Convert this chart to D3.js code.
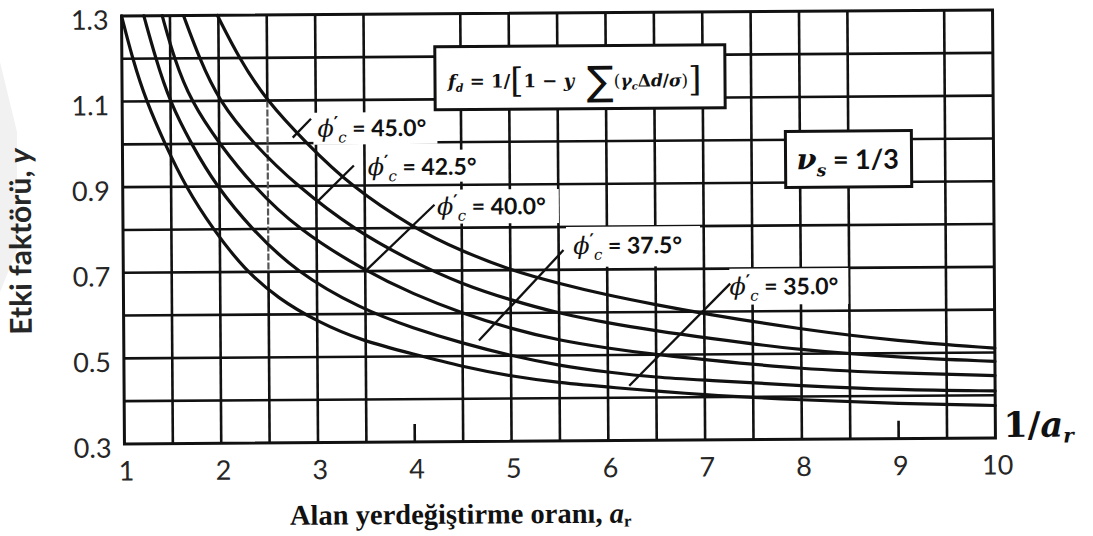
<!DOCTYPE html>
<html>
<head>
<meta charset="utf-8">
<script src="https://cdn.jsdelivr.net/npm/d3@7"></script>
<style>
  html, body { margin: 0; padding: 0; background: #fff; }
  svg { display: block; }
</style>
</head>
<body>
<svg id="chart" width="1093" height="536"></svg>
<script>
// ---- data -------------------------------------------------------------
const xTickValues = [1, 2, 3, 4, 5, 6, 7, 8, 9, 10];
const yTickValues = [1.3, 1.1, 0.9, 0.7, 0.5, 0.3];
const yGridValues = [0.4, 0.5, 0.6, 0.7, 0.8, 0.9, 1.0, 1.1, 1.2];
const xGridValues = [1.5, 2, 3, 3.5, 4.5, 5, 5.5, 6, 6.5, 7, 7.5, 8, 8.5, 9.5];
const xFaintValues = [2.5];
const xStubValues = [4, 9];

const frictionAngles = ["45.0", "42.5", "40.0", "37.5", "35.0"];

// influence factor y against area replacement ratio a_r, one list per angle
const phi45 = [[1.99, 1.3], [2.21, 1.2], [2.49, 1.1], [2.9, 1.0], [3.35, 0.9], [4.0, 0.80], [4.5, 0.745],
  [5.0, 0.70], [5.5, 0.668], [6.0, 0.64], [6.5, 0.617], [7.0, 0.595], [8.0, 0.557], [9.0, 0.528], [10, 0.51]];
const phi425 = [[1.64, 1.3], [1.80, 1.2], [2.0, 1.1], [2.35, 1.0], [2.8, 0.9], [3.4, 0.795], [4.0, 0.72],
  [4.5, 0.668], [5.0, 0.63], [5.5, 0.598], [6.0, 0.575], [6.5, 0.556], [7.0, 0.539], [8.0, 0.508], [9.0, 0.49], [10, 0.479]];
const phi40 = [[1.42, 1.3], [1.54, 1.2], [1.71, 1.1], [2.0, 1.0], [2.35, 0.9], [2.8, 0.8], [3.5, 0.70], [4.0, 0.645],
  [4.5, 0.60], [5.0, 0.563], [5.5, 0.535], [6.0, 0.516], [6.5, 0.50], [7.0, 0.488], [8.0, 0.464], [9.0, 0.453], [10, 0.446]];
const phi375 = [[1.23, 1.3], [1.35, 1.2], [1.49, 1.1], [1.71, 1.0], [1.97, 0.9], [2.33, 0.8], [2.78, 0.7], [3.45, 0.612],
  [4.0, 0.565], [4.5, 0.53], [5.0, 0.50], [5.5, 0.476], [6.0, 0.46], [6.5, 0.447], [7.0, 0.44], [8.0, 0.425], [9.0, 0.414], [10, 0.41]];
const phi35 = [[1.0, 1.3], [1.11, 1.2], [1.25, 1.1], [1.44, 1.0], [1.65, 0.9], [1.93, 0.8], [2.25, 0.706], [2.6, 0.637],
  [3.0, 0.583], [3.45, 0.538], [4.0, 0.505], [4.5, 0.475], [5.0, 0.452], [5.5, 0.436], [6.0, 0.425], [7.0, 0.405], [8.0, 0.392], [9.0, 0.382], [10, 0.376]];

// leader lines: point on the curve -> point under the label (data units)
const leader45 = [[2.76, 1.013], [2.95, 1.057]];
const leader425 = [[3.01, 0.863], [3.39, 0.947]];
const leader40 = [[3.52, 0.704], [4.22, 0.854]];
const leader375 = [[4.67, 0.536], [5.55, 0.746]];
const leader35 = [[6.22, 0.428], [7.27, 0.665]];

// ---- layout -----------------------------------------------------------
const svg = d3.select("#chart");
const root = svg.append("g").attr("transform", "rotate(-0.39,558,227)");

const x = d3.scaleLinear().domain([1, 10]).range([123, 994]);
const y = d3.scaleLinear().domain([0.3, 1.3]).range([441, 13]);

const ink = "#111";
const textInk = "#262626";

// faint mark on the left margin
svg.insert("polygon", ":first-child")
  .attr("points", "0,62 17,132 17,250 0,292")
  .attr("fill", "#f1f1f1");

// grid
const grid = root.append("g").attr("stroke", ink).attr("stroke-width", 2.6).attr("fill", "none");
grid.selectAll("line.h").data(yGridValues).join("line")
  .attr("class", "h")
  .attr("x1", x(1)).attr("x2", x(10))
  .attr("y1", d => y(d)).attr("y2", d => y(d));
grid.selectAll("line.v").data(xGridValues).join("line")
  .attr("class", "v")
  .attr("x1", d => x(d)).attr("x2", d => x(d))
  .attr("y1", y(1.3)).attr("y2", y(0.3));
grid.selectAll("line.s").data(xStubValues).join("line")
  .attr("class", "s")
  .attr("x1", d => x(d)).attr("x2", d => x(d))
  .attr("y1", y(0.3) - 18).attr("y2", y(0.3));
// the 2.5 rule is solid at both ends and only lightly printed in between
xFaintValues.forEach(v => {
  grid.append("line").attr("x1", x(v)).attr("x2", x(v)).attr("y1", y(1.3)).attr("y2", y(1.1));
  grid.append("line").attr("x1", x(v)).attr("x2", x(v)).attr("y1", y(1.1)).attr("y2", y(0.7))
    .attr("stroke", "#555").attr("stroke-width", 2.2).attr("stroke-dasharray", "7 2");
  grid.append("line").attr("x1", x(v)).attr("x2", x(v)).attr("y1", y(0.7)).attr("y2", y(0.3));
});

// white panels behind the curve labels
const panels = [
  { x: 314, y: 111, w: 124, h: 32 },   // 45.0
  { x: 368, y: 149, w: 118, h: 32 },   // 42.5
  { x: 437, y: 189, w: 122, h: 34 },   // 40.0
  { x: 566, y: 227, w: 134, h: 40 },   // 37.5
  { x: 729, y: 270, w: 119, h: 36 }    // 35.0
];
root.append("g").selectAll("rect").data(panels).join("rect")
  .attr("x", d => d.x).attr("y", d => d.y).attr("width", d => d.w).attr("height", d => d.h)
  .attr("fill", "#fff");

// frame
root.append("rect")
  .attr("x", x(1)).attr("y", y(1.3))
  .attr("width", x(10) - x(1)).attr("height", y(0.3) - y(1.3))
  .attr("fill", "none").attr("stroke", ink).attr("stroke-width", 3);

// curves
const line = d3.line().x(d => x(d[0])).y(d => y(d[1])).curve(d3.curveBasis);
const curves = [phi45, phi425, phi40, phi375, phi35];
root.append("g").selectAll("path").data(curves).join("path")
  .attr("d", line)
  .attr("fill", "none").attr("stroke", ink).attr("stroke-width", 3.2)
  .attr("stroke-linejoin", "round").attr("stroke-linecap", "round");

// leaders
const leaderLine = d3.line().x(d => x(d[0])).y(d => y(d[1]));
root.append("g").selectAll("path").data([leader45, leader425, leader40, leader375, leader35]).join("path")
  .attr("d", leaderLine)
  .attr("fill", "none").attr("stroke", ink).attr("stroke-width", 2.3);

// curve labels
const labelPos = [
  { x: 318, y: 135 }, { x: 368, y: 174 }, { x: 437, y: 214 }, { x: 573, y: 254 }, { x: 729, y: 296 }
];
const labels = root.append("g");
frictionAngles.forEach((a, i) => {
  const t = labels.append("text")
    .attr("x", labelPos[i].x).attr("y", labelPos[i].y)
    .attr("fill", ink);
  t.append("tspan").text("ϕ")
    .attr("font-family", "DejaVu Serif").attr("font-style", "italic").attr("font-size", 24);
  t.append("tspan").text("′")
    .attr("font-family", "DejaVu Serif").attr("font-weight", "bold").attr("font-size", 17).attr("dy", -8);
  t.append("tspan").text("c")
    .attr("font-family", "DejaVu Serif").attr("font-style", "italic").attr("font-size", 15)
    .attr("dy", 14);
  t.append("tspan").text(" = " + a + "°")
    .attr("font-family", "Lato").attr("font-weight", "bold").attr("font-size", 23).attr("dy", -6);
});

// formula box
root.append("rect").attr("x", 436).attr("y", 46).attr("width", 290).attr("height", 63)
  .attr("fill", "#fff").attr("stroke", ink).attr("stroke-width", 3);
const f = root.append("text").attr("x", 449).attr("y", 87)
  .attr("font-family", "DejaVu Serif").attr("font-size", 18).attr("font-weight", "bold").attr("fill", ink);
f.append("tspan").text("f").attr("font-style", "italic");
f.append("tspan").text("d").attr("font-style", "italic").attr("font-size", 11).attr("dy", 4);
f.append("tspan").text(" = 1/").attr("dy", -4);
f.append("tspan").text("[").attr("font-size", 34).attr("font-weight", "normal").attr("dy", 5);
f.append("tspan").text("1 − ").attr("dy", -5);
f.append("tspan").text("y").attr("font-style", "italic");
f.append("tspan").text(" ∑").attr("font-family", "DejaVu Sans").attr("font-size", 40)
  .attr("font-weight", "normal").attr("dy", 8);
f.append("tspan").text("(").attr("font-size", 17).attr("font-weight", "normal").attr("dy", -8);
f.append("tspan").text("γ").attr("font-style", "italic").attr("font-size", 17);
f.append("tspan").text("c").attr("font-style", "italic").attr("font-size", 10).attr("dy", 3);
f.append("tspan").text("Δ").attr("font-size", 17).attr("dy", -3);
f.append("tspan").text("d").attr("font-style", "italic").attr("font-size", 17);
f.append("tspan").text("/").attr("font-size", 17);
f.append("tspan").text("σ").attr("font-style", "italic").attr("font-size", 17);
f.append("tspan").text(")").attr("font-size", 17).attr("font-weight", "normal");
f.append("tspan").text("]").attr("font-size", 34).attr("font-weight", "normal").attr("dy", 5);

// Poisson ratio box
root.append("rect").attr("x", 786).attr("y", 133).attr("width", 126).attr("height", 56)
  .attr("fill", "#fff").attr("stroke", ink).attr("stroke-width", 3);
const nu = root.append("text").attr("x", 797).attr("y", 171).attr("fill", ink);
nu.append("tspan").text("ν").attr("font-family", "DejaVu Serif").attr("font-style", "italic")
  .attr("font-weight", "bold").attr("font-size", 29);
nu.append("tspan").text("s").attr("font-family", "DejaVu Serif").attr("font-style", "italic")
  .attr("font-weight", "bold").attr("font-size", 17).attr("dy", 7);
nu.append("tspan").text(" = 1/3").attr("font-family", "Lato").attr("font-weight", "bold")
  .attr("font-size", 27).attr("dy", -7);

// tick labels
root.append("g").selectAll("text").data(yTickValues).join("text")
  .attr("x", 110).attr("y", d => y(d) + 3)
  .attr("text-anchor", "end").attr("dominant-baseline", "central")
  .attr("font-family", "Lato").attr("font-size", 27).attr("fill", textInk)
  .text(d => d3.format(".1f")(d));
root.append("g").selectAll("text").data(xTickValues).join("text")
  .attr("x", d => x(d) + 2).attr("y", y(0.3) + 26)
  .attr("text-anchor", "middle").attr("dominant-baseline", "central")
  .attr("font-family", "Lato").attr("font-size", 27).attr("fill", textInk)
  .text(d => d);

// axis titles
root.append("text")
  .attr("transform", "translate(31,238) rotate(-90)")
  .attr("text-anchor", "middle")
  .attr("font-family", "Lato").attr("font-weight", "bold").attr("font-size", 30).attr("fill", textInk)
  .call(t => {
    t.append("tspan").text("Etki faktörü, ");
    t.append("tspan").text("y").attr("font-style", "italic");
  });

const xt = root.append("text").attr("x", 288).attr("y", 523)
  .attr("font-family", "Liberation Serif").attr("font-weight", "bold").attr("font-size", 28.5).attr("fill", ink);
xt.append("tspan").text("Alan yerdeğiştirme oranı, ");
xt.append("tspan").text("a").attr("font-style", "italic");
xt.append("tspan").text("r").attr("font-size", 17).attr("dy", 4);

const ra = root.append("text").attr("x", 1002).attr("y", 440)
  .attr("font-family", "DejaVu Serif").attr("font-weight", "bold").attr("font-size", 35).attr("fill", ink);
ra.append("tspan").text("1/");
ra.append("tspan").text("a").attr("font-style", "italic");
ra.append("tspan").text("r").attr("font-style", "italic").attr("font-size", 20).attr("dy", 6);
</script>
</body>
</html>
